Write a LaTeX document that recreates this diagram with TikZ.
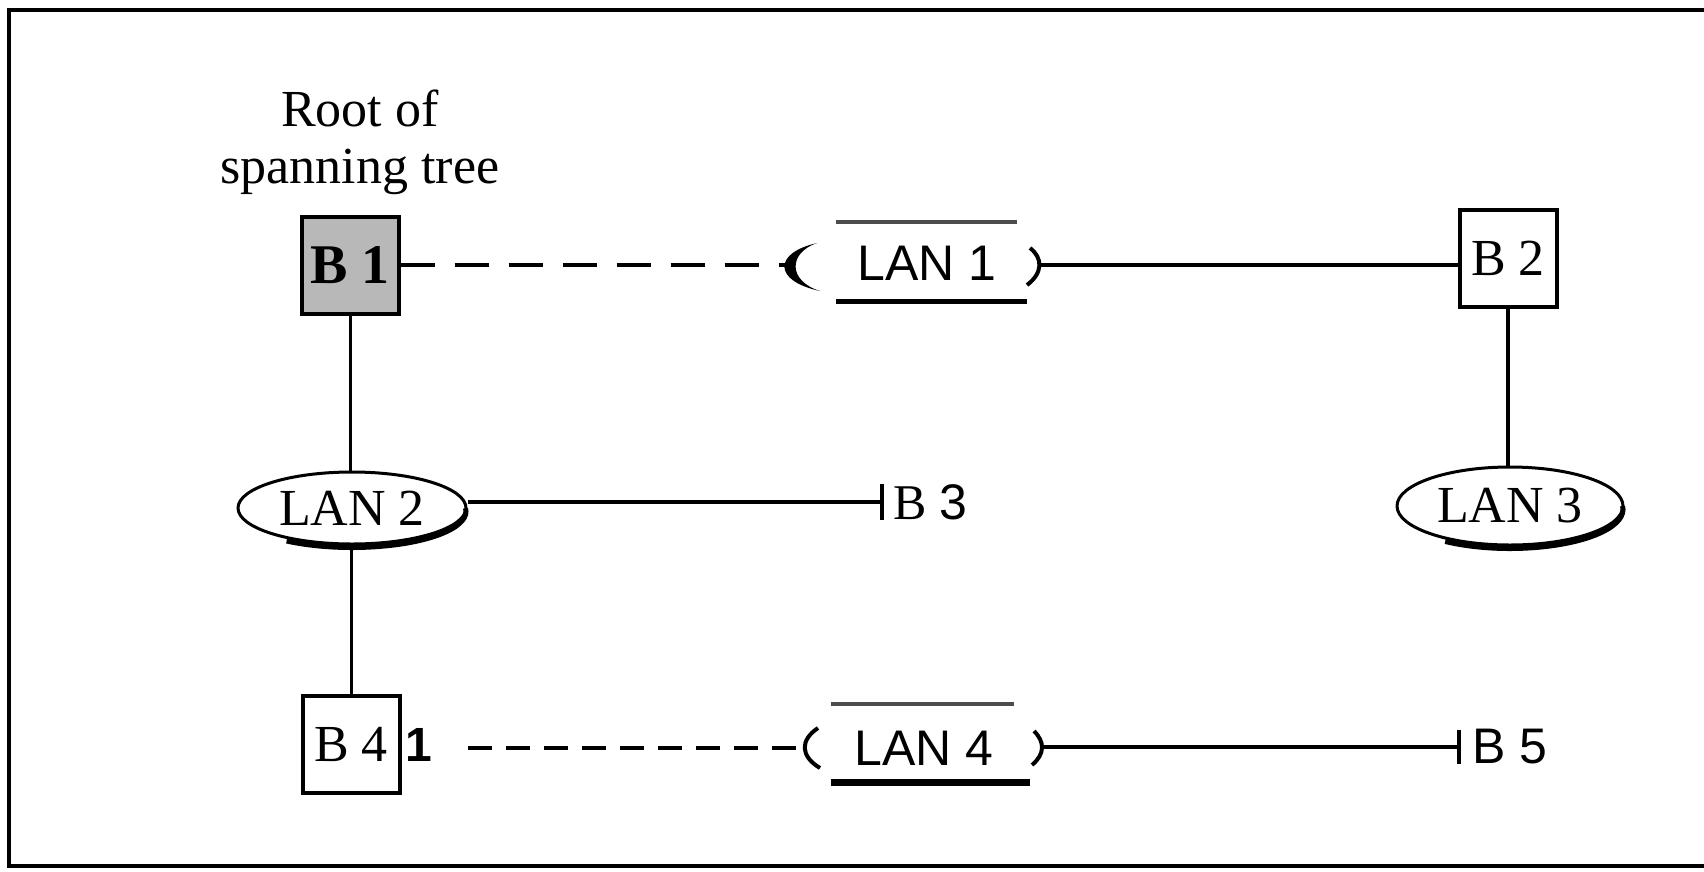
\documentclass[tikz,border=0pt]{standalone}
\usepackage{fontspec}
\setmainfont{Liberation Serif}
\newfontfamily\sansf{Liberation Sans}
\usetikzlibrary{shapes.geometric,calc}
\begin{document}
\begin{tikzpicture}[x=1pt,y=1pt,
  bigfont/.style={font=\fontsize{52}{57}\selectfont},
  bridge/.style={draw,line width=4pt,minimum width=97pt,minimum height=97pt,inner sep=0pt,bigfont},
  lanell/.style={draw,ellipse,line width=3pt,inner sep=0pt,bigfont},
  lantxt/.style={inner sep=0pt,font=\sansf\fontsize{50}{57}\selectfont},
  btxt/.style={inner sep=0pt,anchor=west,font=\fontsize{50}{57}\selectfont},
  link/.style={line width=4.5pt},
  thinlink/.style={line width=3pt},
  dashA/.style={line width=4pt,dash pattern=on 34pt off 20pt},
  dashB/.style={line width=4pt,dash pattern=on 24pt off 14pt},
  barbar/.style={line width=4pt},
  shadow/.style={line width=5pt}
]
\useasboundingbox (0,0) rectangle (1704,-871);
% frame
\draw[line width=4.5pt] (1704,-10) -- (9,-10) -- (9,-866) -- (1704,-866);

% nodes
\node[bigfont,align=center,inner sep=0pt] (root) at (360,-142) {Root of\\spanning tree};
\node[bridge,fill=black!28] (b1) at (350,-265) {\bfseries\fontsize{56}{60}\selectfont B 1};
\node[bridge] (b2) at (1508,-258) {B 2};
\node[bridge] (b4) at (351,-744) {B 4};
\node[inner sep=0pt,font=\sansf\bfseries\fontsize{48}{50}\selectfont] (b4p) at (419,-745) {1};

\node[lantxt] (lan1) at (927,-263) {LAN 1};
\node[lantxt] (lan4) at (924,-748) {LAN 4};

\node[lanell,minimum width=228pt,minimum height=72pt] (lan2) at (352,-508) {LAN 2};
\node[lanell,minimum width=226pt,minimum height=78pt] (lan3) at (1510,-506) {LAN 3};

\node[btxt] (b3) at (893,-502) {B {\sansf 3}};
\node[btxt,font=\sansf\fontsize{50}{57}\selectfont] (b5) at (1472,-747) {B 5};

% ellipse shadows
\draw[shadow] ($(lan2.center)+({114*cos(-125)},{36*sin(-125)-3.5})$) arc[start angle=-125,end angle=5,x radius=114,y radius=36];
\draw[shadow] ($(lan3.center)+({113*cos(-125)},{39*sin(-125)-3.5})$) arc[start angle=-125,end angle=5,x radius=113,y radius=39];

% LAN 1 decorations
\begin{scope}[shift={(lan1.center)}]
  \draw[line width=4pt,black!70] (-91,41) -- (90,41);
  \draw[line width=5pt] (-91,-38) -- (100,-38);
  \fill (-110,20) .. controls (-154,10) and (-154,-18) .. (-107,-28)
        .. controls (-139,-18) and (-139,10) .. cycle;
  \draw[line width=4pt] (103,15) .. controls (116,5) and (116,-10) .. (100,-22);
  \coordinate (lan1l) at (-142,-2);
  \coordinate (lan1r) at (112,-2);
\end{scope}

% LAN 4 decorations
\begin{scope}[shift={(lan4.center)}]
  \draw[line width=4pt,black!70] (-93,44) -- (90,44);
  \draw[line width=7pt] (-93,-34) -- (106,-34);
  \draw[line width=4pt] (-106,20) .. controls (-124,8) and (-124,-8) .. (-104,-20);
  \draw[line width=4pt] (110,17) .. controls (121,6) and (121,-6) .. (108,-17);
  \coordinate (lan4l) at (-120,0);
  \coordinate (lan4r) at (119,1);
\end{scope}

% bars of B 3 and B 5
\coordinate (b3bar) at ([xshift=-11pt]b3.west);
\coordinate (b5bar) at ([xshift=-13pt]b5.west);
\draw[barbar] ([yshift=18pt]b3bar) -- ([yshift=-18pt]b3bar);
\draw[barbar] ([yshift=17pt]b5bar) -- ([yshift=-17pt]b5bar);

% connectors
\draw[dashA] (b1.east) -- (b1.east -| lan1l);
\draw[link] (lan1r) -- (lan1r -| b2.west);
\draw[thinlink] (b1.south) -- (b1.south |- lan2.north);
\draw[thinlink] (b4.north) -- (b4.north |- lan2.south);
\draw[link] (lan2.east |- b3bar) -- (b3bar);
\draw[link] (b2.south) -- (b2.south |- lan3.north);
\draw[dashB] ([xshift=35pt]b4p.east |- lan4l) -- (lan4l);
\draw[link] (lan4r) -- (lan4r -| b5bar);
\end{tikzpicture}
\end{document}
